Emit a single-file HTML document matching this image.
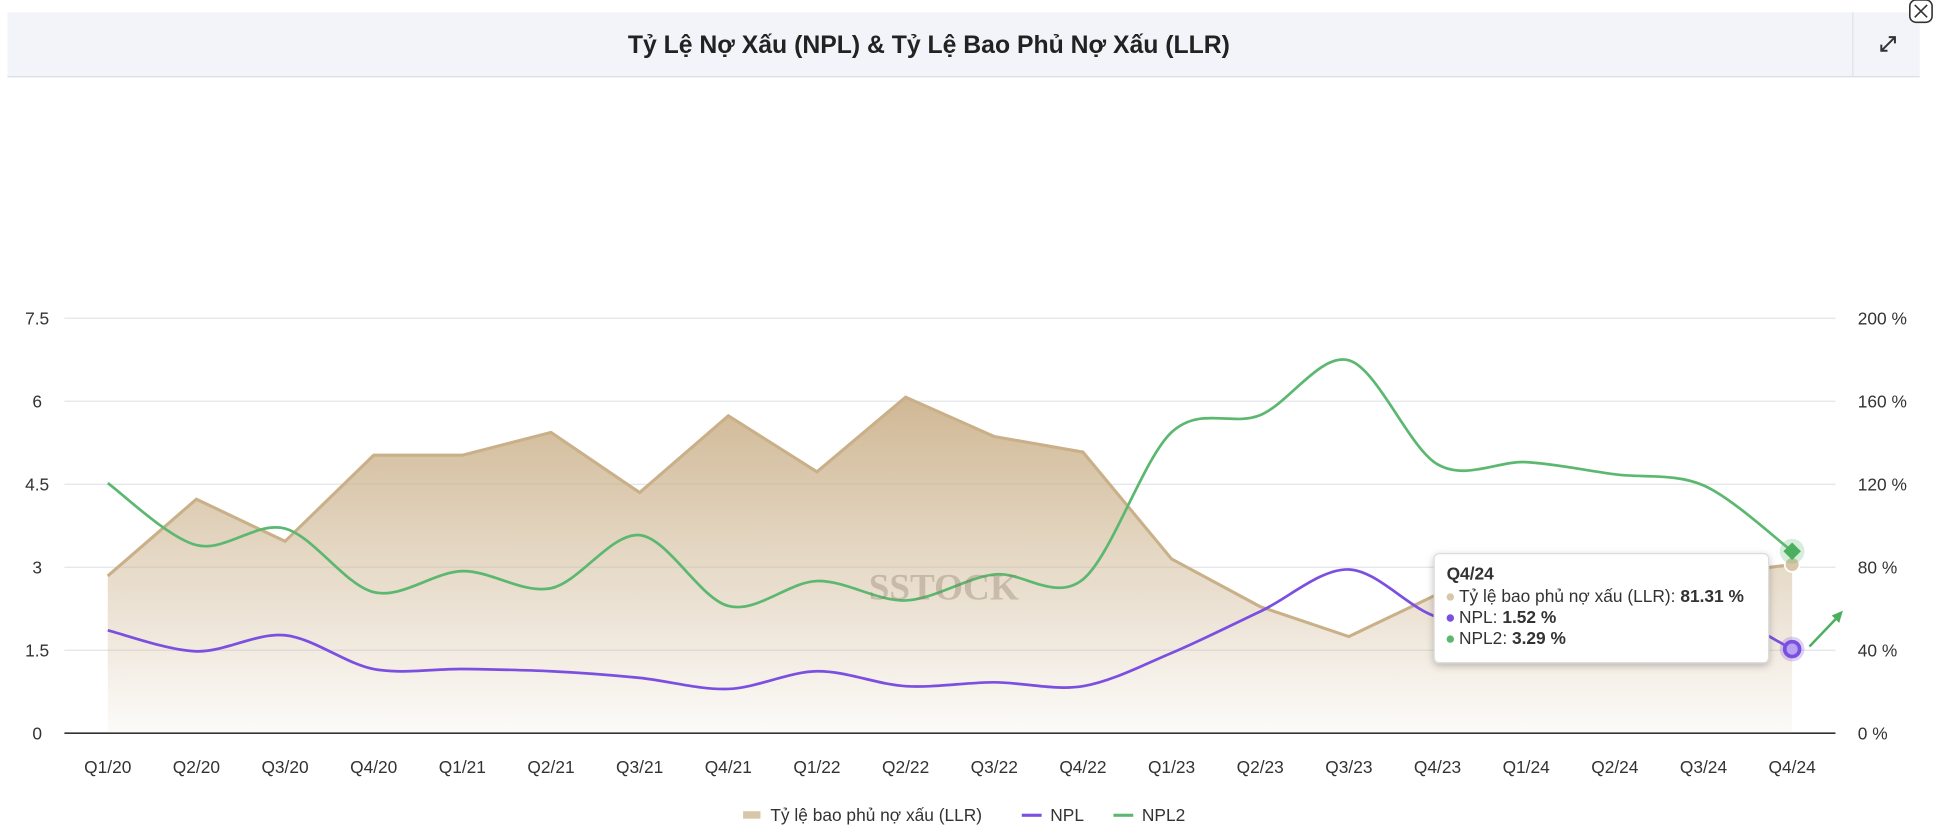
<!DOCTYPE html>
<html><head><meta charset="utf-8">
<style>
html,body{margin:0;padding:0;background:#fff;width:1942px;height:836px;overflow:hidden}
svg{display:block;font-family:"Liberation Sans",sans-serif}
</style></head>
<body>
<svg id="chart" width="1942" height="836" viewBox="0 0 1568 675" preserveAspectRatio="none">
<defs>
<linearGradient id="llrGrad" x1="0" y1="0" x2="0" y2="1">
<stop offset="0" stop-color="#cdb48f" stop-opacity="0.95"/>
<stop offset="1" stop-color="#cdb48f" stop-opacity="0.05"/>
</linearGradient>
<filter id="sh" x="-10%" y="-10%" width="130%" height="140%"><feDropShadow dx="0" dy="2" stdDeviation="3" flood-opacity="0.25"/></filter>
</defs>
<rect x="6" y="10" width="1544" height="52" fill="#f2f4fa"/>
<line x1="6" y1="62" x2="1550" y2="62" stroke="#d8dde8"/>
<line x1="1496" y1="10" x2="1496" y2="62" stroke="#dde1ea"/>
<text x="750" y="43" text-anchor="middle" font-size="20" font-weight="bold" fill="#222">Tỷ Lệ Nợ Xấu (NPL) &amp; Tỷ Lệ Bao Phủ Nợ Xấu (LLR)</text>
<g stroke="#333" stroke-width="1.6" fill="none">
<path d="M1519 41 L1530 30 M1525 30 L1530 30 L1530 35 M1519 36 L1519 41 L1524 41"/>
</g>
<g>
<rect x="1542" y="0" width="18" height="18" rx="5" fill="#fff" stroke="#333" stroke-width="1.3"/>
<path d="M1546 4 L1556 14 M1556 4 L1546 14" stroke="#333" stroke-width="1.3"/>
</g>
<g id="grid"></g>
<g id="series"></g>
<text x="762" y="484" text-anchor="middle" font-size="30" font-weight="bold" fill="#8a7a66" opacity="0.35" font-family="Liberation Serif,serif">SSTOCK</text>
<g id="overlay"></g>
<g font-size="14" fill="#333">
<g><rect x="600" y="655" width="14" height="6" fill="#d8c6a8"/><text x="622" y="663">Tỷ lệ bao phủ nợ xấu (LLR)</text></g>
<g><rect x="825" y="657" width="16" height="2.5" fill="#7b4fe0"/><text x="848" y="663">NPL</text></g>
<g><rect x="899" y="657" width="16" height="2.5" fill="#5cb870"/><text x="922" y="663">NPL2</text></g>
</g>
</svg>
<script>
const categories=["Q1/20","Q2/20","Q3/20","Q4/20","Q1/21","Q2/21","Q3/21","Q4/21","Q1/22","Q2/22","Q3/22","Q4/22","Q1/23","Q2/23","Q3/23","Q4/23","Q1/24","Q2/24","Q3/24","Q4/24"];
const llrValues=[75.8,112.8,92.5,134,134,145,116,153,126,162,143,135.5,84,61,46.6,67,62,70,76,81.31];
const nplValues=[1.86,1.48,1.77,1.16,1.16,1.12,1.0,0.8,1.12,0.85,0.92,0.85,1.45,2.2,2.96,2.1,2.05,2.05,2.28,1.52];
const npl2Values=[4.52,3.4,3.7,2.55,2.93,2.62,3.58,2.3,2.75,2.4,2.87,2.78,5.44,5.75,6.74,4.86,4.9,4.68,4.48,3.29];
const leftTicks=["0","1.5","3","4.5","6","7.5"];
const rightTicks=["0 %","40 %","80 %","120 %","160 %","200 %"];
const NS="http://www.w3.org/2000/svg";
const X0=87,X1=1447,Y0=592,Y1=257;
const xs=i=>X0+(X1-X0)*i/(categories.length-1);
const yL=v=>Y0-(Y0-Y1)*v/7.5;
const yR=v=>Y0-(Y0-Y1)*v/200;
function mk(tag,attrs,parent){const e=document.createElementNS(NS,tag);for(const k in attrs)e.setAttribute(k,attrs[k]);parent.appendChild(e);return e;}
const grid=document.getElementById('grid'),ser=document.getElementById('series'),ov=document.getElementById('overlay');
leftTicks.forEach((t,i)=>{const y=Y0-(Y0-Y1)*i/5;
 const l=mk('line',{x1:52,x2:1482,y1:y,y2:y,stroke:i==0?'#333':'#e3e5ea','stroke-width':i==0?1.3:1},grid);
 
 
 const a=mk('text',{x:30,y:y+5,'text-anchor':'middle','font-size':14,fill:'#333'},grid);a.textContent=t;
 
 
 const b=mk('text',{x:1500,y:y+5,'font-size':14,fill:'#333'},grid);b.textContent=rightTicks[i];
 
 
});
categories.forEach((c,i)=>{const t=mk('text',{x:xs(i),y:624,'text-anchor':'middle','font-size':14,fill:'#333'},grid);t.textContent=c;
 
 });
// LLR area
let d='M'+xs(0)+','+Y0;llrValues.forEach((v,i)=>d+=' L'+xs(i)+','+yR(v));d+=' L'+xs(llrValues.length-1)+','+Y0+'Z';
const area=mk('path',{d:d,fill:'url(#llrGrad)'},ser);


let dl='';llrValues.forEach((v,i)=>dl+=(i?' L':'M')+xs(i)+','+yR(v));
const ll=mk('path',{d:dl,fill:'none',stroke:'#c9b089','stroke-width':2.5},ser);


function smooth(vals,yf){const p=vals.map((v,i)=>[xs(i),yf(v)]);let s='M'+p[0][0]+','+p[0][1];
 for(let i=0;i<p.length-1;i++){const p0=p[i-1]||p[i],p1=p[i],p2=p[i+1],p3=p[i+2]||p2;const k=0.16;
  s+=' C'+(p1[0]+(p2[0]-p0[0])*k)+','+(p1[1]+(p2[1]-p0[1])*k)+' '+(p2[0]-(p3[0]-p1[0])*k)+','+(p2[1]-(p3[1]-p1[1])*k)+' '+p2[0]+','+p2[1];}
 return s;}
const npl=mk('path',{d:smooth(nplValues,yL),fill:'none',stroke:'#7b4fe0','stroke-width':2.2},ser);


const npl2=mk('path',{d:smooth(npl2Values,yL),fill:'none',stroke:'#5cb870','stroke-width':2.2},ser);


// hover markers
const li=categories.length-1,xl=xs(li);
mk('circle',{cx:xl,cy:yR(llrValues[li]),r:6,fill:'#d8c6a8',stroke:'#fff','stroke-width':1.5},ov);
mk('circle',{cx:xl,cy:yL(npl2Values[li]),r:10,fill:'#5cb870',opacity:0.25},ov);
const dm=mk('rect',{x:xl-5,y:yL(npl2Values[li])-5,width:10,height:10,fill:'#4caf60',transform:'rotate(45 '+xl+' '+yL(npl2Values[li])+')'},ov);


mk('circle',{cx:xl,cy:yL(nplValues[li]),r:10,fill:'#7b4fe0',opacity:0.25},ov);
const cm=mk('circle',{cx:xl,cy:yL(nplValues[li]),r:6,fill:'#b9a2f2',stroke:'#7b4fe0','stroke-width':3},ov);


// tooltip
const tg=mk('g',{},ov);


mk('rect',{x:1158,y:447,width:270,height:88,rx:4,fill:'#fff',stroke:'#ddd',filter:'url(#sh)'},tg);
const tt=mk('text',{x:1168,y:468,'font-size':14,'font-weight':'bold',fill:'#333'},tg);tt.textContent=categories[li];
const rows=[['#d8c6a8','Tỷ lệ bao phủ nợ xấu (LLR): ',llrValues[li].toFixed(2)+' %'],['#7b4fe0','NPL: ',nplValues[li].toFixed(2)+' %'],['#5cb870','NPL2: ',npl2Values[li].toFixed(2)+' %']];
rows.forEach((r,i)=>{const y=486+i*17;mk('circle',{cx:1171,cy:y-4,r:3,fill:r[0]},tg);
 const t=mk('text',{x:1178,y:y,'font-size':14,fill:'#333'},tg);
 const a=mk('tspan',{},t);a.textContent=r[1];const b=mk('tspan',{'font-weight':'bold'},t);b.textContent=r[2];});
// green arrow
const ar=mk('g',{},ov);


mk('line',{x1:1461,y1:522,x2:1482,y2:500,stroke:'#4caf60','stroke-width':2},ar);
mk('path',{d:'M1488 493 L1479 497 L1485 503 Z',fill:'#4caf60'},ar);
</script>
</body></html>
